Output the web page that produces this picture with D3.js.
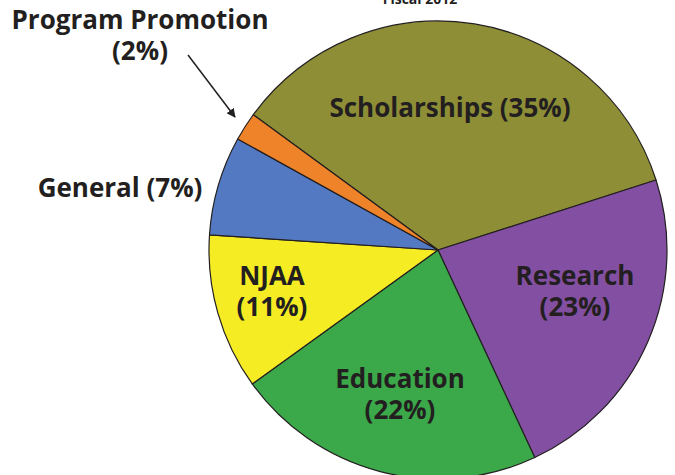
<!DOCTYPE html>
<html>
<head>
<meta charset="utf-8">
<script src="https://cdn.jsdelivr.net/npm/d3@7"></script>
<style>
  body { margin: 0; background: #fff; }
  svg text { font-family: "Open Sans", Lato, sans-serif; font-weight: bold; fill: #231f20; }
</style>
</head>
<body>
<div id="chart"></div>
<script>
// Fiscal 2012 spending pie

const categories = ['Scholarships', 'Research', 'Education', 'NJAA', 'General', 'Program Promotion'];
const shares = [35, 23, 22, 11, 7, 2];
const colors = ['#8e8e36', '#834fa2', '#3ba84a', '#f6ec23', '#5479c3', '#ee832a'];

const width = 675, height = 475;
const cx = 438, cy = 250, radius = 229;
const startDeg = -53.8;

const svg = d3.select('#chart')
    .append('svg')
    .attr('width', width)
    .attr('height', height);

// Title is cut off at the top of the picture
svg.append('text')
    .attr('x', 420)
    .attr('y', 4)
    .attr('text-anchor', 'middle')
    .style('font-size', '14px')
    .text('Fiscal 2012');

const data = categories.map((c, i) => ({ name: c, value: shares[i], color: colors[i] }));

const pie = d3.pie()
    .value(d => d.value)
    .sort(null)
    .startAngle(startDeg * Math.PI / 180)
    .endAngle((startDeg + 360) * Math.PI / 180);

const arc = d3.arc()
    .innerRadius(0)
    .outerRadius(radius);

const g = svg.append('g')
    .attr('transform', `translate(${cx},${cy})`);

g.selectAll('path')
    .data(pie(data))
    .enter()
    .append('path')
    .attr('d', arc)
    .style('fill', d => d.data.color)
    .style('stroke', '#231f20')
    .style('stroke-width', 1.2)
    .style('stroke-linejoin', 'round');

// Labels (absolute positions in the picture)
const labels = [
    { lines: ['Scholarships (35%)'], x: 450, y: 117 },
    { lines: ['Research', '(23%)'], x: 575, y: 285 },
    { lines: ['Education', '(22%)'], x: 400, y: 388 },
    { lines: ['NJAA', '(11%)'], x: 272, y: 285 },
    { lines: ['General (7%)'], x: 120, y: 197 },
    { lines: ['Program Promotion', '(2%)'], x: 140, y: 29 }
];

labels.forEach(l => {
    const t = svg.append('text')
        .attr('text-anchor', 'middle')
        .style('font-size', '26px');
    l.lines.forEach((line, i) => {
        t.append('tspan')
            .attr('x', l.x)
            .attr('y', l.y + i * 31)
            .text(line);
    });
});

// Arrow pointing to the small slice
svg.append('defs')
    .append('marker')
    .attr('id', 'arrow')
    .attr('viewBox', '0 0 10 10')
    .attr('refX', 9)
    .attr('refY', 5)
    .attr('markerWidth', 9)
    .attr('markerHeight', 9)
    .attr('markerUnits', 'userSpaceOnUse')
    .attr('orient', 'auto')
    .append('path')
    .attr('d', 'M0,0 L10,5 L0,10 z')
    .style('fill', '#231f20');

svg.append('line')
    .attr('x1', 188)
    .attr('y1', 55)
    .attr('x2', 235)
    .attr('y2', 117)
    .style('stroke', '#231f20')
    .style('stroke-width', 1.5)
    .attr('marker-end', 'url(#arrow)');
</script>
</body>
</html>
